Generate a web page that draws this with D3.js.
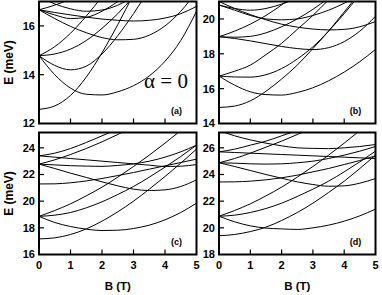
<!DOCTYPE html>
<html>
<head>
<meta charset="utf-8" />
<script src="https://cdn.jsdelivr.net/npm/d3@7/dist/d3.min.js"></script>
<style>
  body { margin: 0; padding: 0; background: #ffffff; }
  svg text { font-family: "Liberation Sans", Arial, sans-serif; font-weight: bold; fill: #000; }
  .curve { fill: none; stroke: #000; stroke-width: 1; }
  .frame { fill: none; stroke: #000; stroke-width: 2; }
</style>
</head>
<body>
<svg id="chart" width="382" height="295"></svg>
<script>
// magnetic field grid (T), energies in meV
const fieldB = [0, 0.5, 1, 1.5, 2, 2.5, 3, 3.5, 4, 4.5, 5];

const curvesA = [
  [12.58, 12.72, 13.15, 13.9, 14.9, 16.05, 17.3],
  [14.78, 14.0, 13.45, 13.2, 13.17, 13.3, 13.55, 13.95, 14.55, 15.4, 16.6],
  [14.78, 14.38, 14.2, 14.35, 14.85, 15.6, 16.5, 17.5],
  [14.78, 14.85, 15.05, 15.4, 15.9, 16.5, 17.2],
  [14.78, 15.15, 15.7, 16.4, 17.2],
  [16.66, 16.3, 15.98, 15.72, 15.52, 15.43, 15.45, 15.62, 16.0, 16.6, 17.4],
  [16.66, 16.55, 16.45, 16.36, 16.28, 16.23, 16.2, 16.23, 16.32, 16.5, 16.8],
  [16.66, 16.45, 16.3, 16.35, 16.6, 17.0, 17.5],
  [16.66, 16.85, 17.1, 17.4],
  [17.2, 16.9, 16.7, 16.6, 16.65, 16.85, 17.2]
];

const curvesB = [
  [14.92, 15.0, 15.3, 15.85, 16.55, 17.35, 18.3, 19.3, 20.4, 21.5],
  [16.72, 16.2, 15.82, 15.66, 15.63, 15.78, 16.05, 16.45, 16.95, 17.55, 18.25],
  [16.72, 16.67, 16.66, 16.8, 17.15, 17.7, 18.4, 19.3, 20.3, 21.4],
  [16.72, 17.0, 17.35, 17.95, 18.6, 19.4, 20.2, 21.1],
  [18.98, 18.88, 18.74, 18.58, 18.42, 18.3, 18.24, 18.35, 18.7, 19.3, 20.15],
  [21.0, 20.6, 20.25, 19.95, 19.7, 19.53, 19.42, 19.37, 19.4, 19.55, 19.85],
  [18.98, 18.95, 19.0, 19.2, 19.55, 20.0, 20.55, 21.2],
  [18.98, 19.3, 19.7, 20.2, 20.8, 21.5],
  [20.8, 20.5, 20.2, 20.0, 19.95, 20.0, 20.2, 20.5, 20.9, 21.4],
  [20.8, 20.6, 20.5, 20.6, 20.85, 21.2]
];

const curvesC = [
  [17.17, 17.25, 17.5, 17.92, 18.5, 19.2, 20.0, 20.9, 21.85, 22.85, 23.9],
  [18.86, 18.4, 18.1, 17.9, 17.8, 17.82, 17.95, 18.2, 18.6, 19.15, 19.85],
  [18.86, 18.95, 19.15, 19.5, 19.95, 20.5, 21.1, 21.8, 22.55, 23.35, 24.2],
  [18.86, 19.3, 19.8, 20.4, 21.05, 21.8, 22.6, 23.45, 24.35, 25.3],
  [21.29, 21.3, 21.38, 21.52, 21.7, 21.92, 22.15, 22.4, 22.65, 22.9, 23.15],
  [22.78, 22.45, 22.1, 21.78, 21.45, 21.15, 20.9, 20.8, 20.85, 21.1, 21.6],
  [22.78, 22.72, 22.66, 22.63, 22.61, 22.68, 22.8, 23.0, 23.3, 23.7, 24.2],
  [23.4, 23.3, 23.2, 23.1, 23.0, 22.9, 22.8, 22.7, 22.6, 22.62, 22.75],
  [22.78, 23.1, 23.5, 23.95, 24.45, 25.0, 25.6],
  [23.4, 23.6, 23.95, 24.4, 24.9, 25.4]
];

const curvesD = [
  [19.41, 19.5, 19.72, 20.05, 20.55, 21.15, 21.85, 22.65, 23.5, 24.45, 25.45],
  [20.87, 20.45, 20.15, 19.98, 19.92, 19.88, 20.0, 20.2, 20.5, 20.9, 21.4],
  [20.87, 20.95, 21.15, 21.45, 21.85, 22.35, 22.9, 23.5, 24.2, 24.95, 25.75],
  [20.87, 21.3, 21.8, 22.4, 23.05, 23.8, 24.6, 25.45, 26.35, 27.3],
  [23.44, 23.45, 23.5, 23.6, 23.75, 23.95, 24.2, 24.45, 24.75, 25.05, 25.4],
  [24.88, 24.6, 24.3, 24.0, 23.72, 23.45, 23.25, 23.12, 23.15, 23.35, 23.7],
  [24.88, 24.85, 24.8, 24.78, 24.8, 24.88, 25.0, 25.2, 25.45, 25.75, 26.1],
  [25.7, 25.65, 25.6, 25.55, 25.5, 25.45, 25.4, 25.35, 25.3, 25.25, 25.2],
  [24.88, 25.2, 25.6, 26.05, 26.5, 27.0, 27.5],
  [25.7, 25.9, 26.2, 26.5, 26.9, 27.3],
  [27.3, 26.9, 26.6, 26.35, 26.15, 26.0, 25.96, 25.94, 26.0, 26.1, 26.25]
];

const panelLabels = ["(a)", "(b)", "(c)", "(d)"];
const yDomains = [[12, 17], [14, 21], [16, 25.15], [18, 27.15]];
const yTicks = [[12, 14, 16], [14, 16, 18, 20], [16, 18, 20, 22, 24], [18, 20, 22, 24, 26]];
const xTicks = [0, 1, 2, 3, 4, 5];

const svg = d3.select("#chart");
const boxes = [
  { left: 39, top: 1.5, w: 157.5, h: 122 },
  { left: 219, top: 1.5, w: 156.5, h: 122 },
  { left: 39, top: 132.5, w: 157.5, h: 122 },
  { left: 219, top: 132.5, w: 156.5, h: 122 }
];
const allCurves = [curvesA, curvesB, curvesC, curvesD];

boxes.forEach((bx, i) => {
  const g = svg.append("g").attr("transform", `translate(${bx.left},${bx.top})`);
  const x = d3.scaleLinear().domain([0, 5]).range([0, bx.w]);
  const y = d3.scaleLinear().domain(yDomains[i]).range([bx.h, 0]);

  g.append("clipPath").attr("id", "clip" + i)
    .append("rect").attr("width", bx.w).attr("height", bx.h);

  const line = d3.line()
    .x((d, k) => x(fieldB[k]))
    .y(d => y(d))
    .curve(d3.curveMonotoneX);

  g.append("g").attr("clip-path", `url(#clip${i})`)
    .selectAll("path")
    .data(allCurves[i])
    .enter()
    .append("path")
    .attr("class", "curve")
    .attr("d", line);

  // inward ticks
  g.selectAll(".xt").data(xTicks.slice(1, -1)).enter().append("line")
    .attr("x1", d => x(d)).attr("x2", d => x(d))
    .attr("y1", bx.h).attr("y2", bx.h - 5)
    .attr("stroke", "#000").attr("stroke-width", 1.2);
  g.selectAll(".yt").data(yTicks[i].slice(1)).enter().append("line")
    .attr("x1", 0).attr("x2", 5)
    .attr("y1", d => y(d)).attr("y2", d => y(d))
    .attr("stroke", "#000").attr("stroke-width", 1.2);

  g.append("rect").attr("class", "frame").attr("width", bx.w).attr("height", bx.h);

  // tick labels
  g.selectAll(".yl").data(yTicks[i]).enter().append("text")
    .attr("x", -4).attr("y", d => y(d)).attr("dy", "0.36em")
    .attr("text-anchor", "end").style("font-size", "11px")
    .text(d => d);
  if (i >= 2) {
    g.selectAll(".xl").data(xTicks).enter().append("text")
      .attr("x", d => x(d)).attr("y", bx.h + 14)
      .attr("text-anchor", "middle").style("font-size", "11px")
      .text(d => d);
    g.append("text").attr("x", bx.w / 2).attr("y", bx.h + 35.5)
      .attr("text-anchor", "middle").style("font-size", "11.5px")
      .text("B (T)");
  }
  if (i % 2 === 0) {
    g.append("text")
      .attr("transform", `translate(${-26},${bx.h / 2}) rotate(-90)`)
      .attr("text-anchor", "middle").style("font-size", "12px")
      .text("E (meV)");
  }
  g.append("text").attr("x", bx.w - 20).attr("y", bx.h - 10)
    .attr("text-anchor", "middle").style("font-size", "9px")
    .text(panelLabels[i]);
});

svg.append("text")
  .attr("x", 166).attr("y", 88)
  .attr("text-anchor", "middle")
  .style("font-family", "'Liberation Serif', 'Times New Roman', serif")
  .style("font-weight", "normal")
  .style("font-size", "21px")
  .text("\u03b1 = 0");
</script>
</body>
</html>
